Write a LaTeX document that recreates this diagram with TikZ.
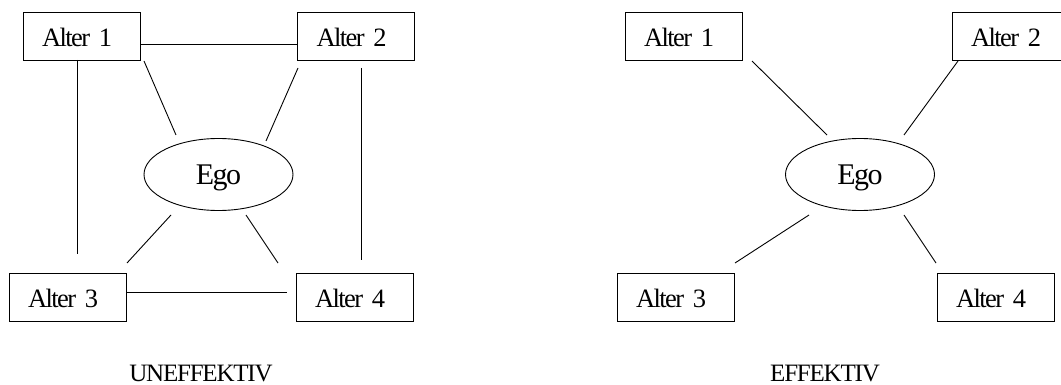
\documentclass[tikz,border=0pt]{standalone}
\usepackage{fontspec}
\usetikzlibrary{shapes.geometric}
\newfontfamily\alterfam{Liberation Serif}[LetterSpace=-6]
\newfontfamily\capfam{Liberation Serif}[LetterSpace=-4.8]
\newfontfamily\egofam{Liberation Serif}[LetterSpace=-5.5]
\newcommand\alterfont{\alterfam\fontsize{26.5}{30}\selectfont}
\newcommand\capfont{\capfam\fontsize{25}{30}\selectfont}
\newcommand\egofont{\egofam\fontsize{30}{34}\selectfont}
\tikzset{
  alter/.style={draw, rectangle, minimum width=117pt, minimum height=48pt,
    inner xsep=19pt, inner ysep=0pt, text width=79pt, align=left,
    text height=21.5pt, text depth=0pt, font=\alterfont},
  ego/.style={draw, ellipse, minimum width=149pt, minimum height=72pt,
    inner sep=0pt, text depth=0pt, font=\egofont},
  caption/.style={anchor=base, inner sep=0pt, font=\capfont},
  tie/.style={draw, line width=0.9pt}
}
\begin{document}
\begin{tikzpicture}[x=1pt, y=-1pt, line width=0.9pt]
\useasboundingbox (0,0) rectangle (1061,385);
\clip (0,0) rectangle (1061,385);

% ---- ineffective network: alters tied to each other ----
\node[alter] (ua1) at (81.5,36) {Alter 1};
\node[alter] (ua2) at (356,36) {Alter 2};
\node[alter] (ua3) at (67.5,297) {Alter 3};
\node[alter] (ua4) at (354.5,297) {Alter 4};
\node[ego]   (uego) at (218.5,174.5) {Ego};
\node[caption] (ucap) at (201,381.5) {UNEFFEKTIV};

\coordinate (u12a) at (140,44);  \coordinate (u12b) at (298,44);
\coordinate (u13a) at (77,60);   \coordinate (u13b) at (77,254);
\coordinate (u24a) at (361,68);  \coordinate (u24b) at (361,260);
\coordinate (u34a) at (126,292); \coordinate (u34b) at (287,292);
\coordinate (u1ea) at (144,61);  \coordinate (u1eb) at (176,135);
\coordinate (u2ea) at (298,68);  \coordinate (u2eb) at (266,141);
\coordinate (ue3a) at (171,215); \coordinate (ue3b) at (127,263);
\coordinate (ue4a) at (246,215); \coordinate (ue4b) at (278,263);

\draw[tie] (u12a) -- (u12b);
\draw[tie] (u13a) -- (u13b);
\draw[tie] (u24a) -- (u24b);
\draw[tie] (u34a) -- (u34b);
\draw[tie] (u1ea) -- (u1eb);
\draw[tie] (u2ea) -- (u2eb);
\draw[tie] (ue3a) -- (ue3b);
\draw[tie] (ue4a) -- (ue4b);

% ---- effective network: alters tied only to ego ----
\node[alter] (ea1) at (683.5,36) {Alter 1};
\node[alter] (ea2) at (1010.5,36) {Alter 2};
\node[alter] (ea3) at (675.5,297) {Alter 3};
\node[alter] (ea4) at (995.5,297) {Alter 4};
\node[ego]   (eego) at (860,174.5) {Ego};
\node[caption] (ecap) at (825,381.5) {EFFEKTIV};

\coordinate (e1ea) at (752,61);  \coordinate (e1eb) at (827,135);
\coordinate (e2ea) at (958,61);  \coordinate (e2eb) at (904,135);
\coordinate (ee3a) at (809,215); \coordinate (ee3b) at (735,263);
\coordinate (ee4a) at (904,215); \coordinate (ee4b) at (936,263);

\draw[tie] (e1ea) -- (e1eb);
\draw[tie] (e2ea) -- (e2eb);
\draw[tie] (ee3a) -- (ee3b);
\draw[tie] (ee4a) -- (ee4b);
\end{tikzpicture}
\end{document}
